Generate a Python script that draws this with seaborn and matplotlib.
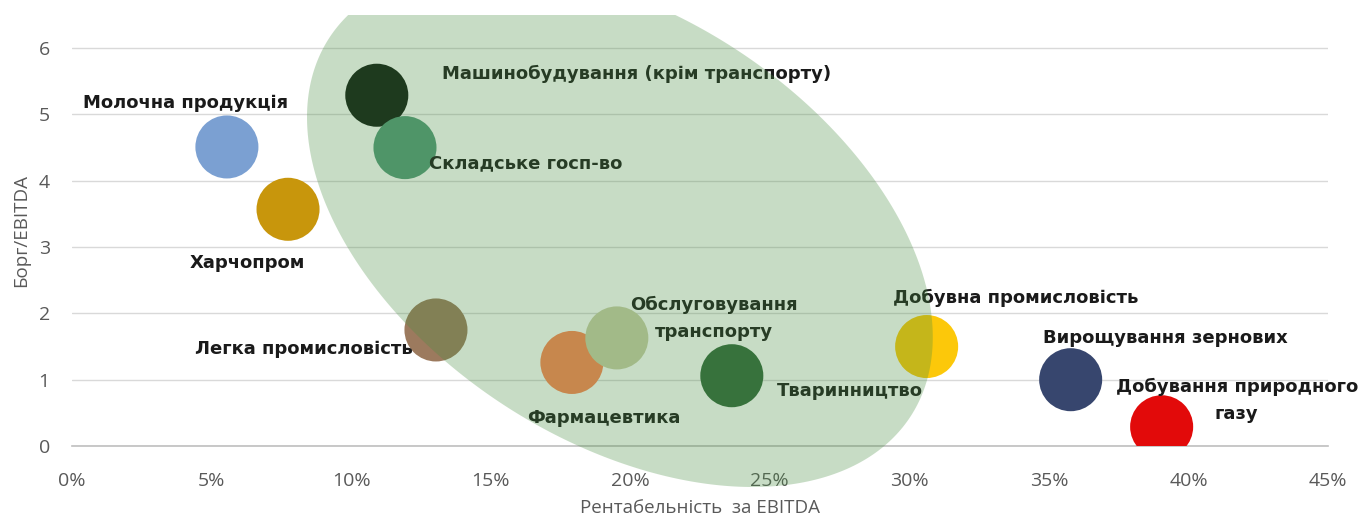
import numpy as np
import pandas as pd
import seaborn as sns
import matplotlib.pyplot as plt
from matplotlib.patches import Rectangle
from matplotlib.ticker import PercentFormatter

# sectors, EBITDA margin (%) and Debt/EBITDA
sectors = ["Молочна продукція", "Харчопром", "Машинобудування (крім транспорту)",
           "Складське госп-во", "Легка промисловість", "Фармацевтика",
           "Обслуговування\nтранспорту", "Тваринництво", "Добувна промисловість",
           "Вирощування зернових", "Добування природного\nгазу"]
margin = [5.55, 7.74, 10.92, 11.93, 13.04, 17.91, 19.52, 23.64, 30.62, 35.78, 39.04]
debt = [4.51, 3.57, 5.29, 4.50, 1.75, 1.26, 1.63, 1.06, 1.50, 1.00, 0.29]
colors = ["#7ba0d2", "#c8960c", "#0c160f", "#53997a", "#9c7a5e", "#ff8453",
          "#cacea8", "#30673a", "#fcc80a", "#37466e", "#e20a0a"]

# label offsets from bubble centre (points) and alignment
offsets = [(-30, 32, "center"), (-29, -39, "center"), (47, 15, "left"),
           (17, -11, "left"), (-17, -14, "right"), (23, -40, "center"),
           (70, 14, "center"), (85, -11, "center"), (64, 35, "center"),
           (68, 30, "center"), (54, 19, "center")]

xticks = list(range(0, 50, 5))
yticks = list(range(0, 7))

df = pd.DataFrame({"sector": sectors, "margin": margin, "debt": debt})

sns.set_style("white")
plt.rcParams["font.family"] = ["DejaVu Sans"]

fig = plt.figure(figsize=(13.65, 5.17), dpi=100)
ax = fig.add_axes([72 / 1365, 71 / 517, 1256 / 1365, 431 / 517])

sns.scatterplot(data=df, x="margin", y="debt", hue="sector",
                palette=dict(zip(sectors, colors)), s=2060, linewidth=0,
                legend=False, ax=ax, zorder=3)

for name, x, y, (dx, dy, ha) in zip(sectors, margin, debt, offsets):
    ax.annotate(name, (x, y), xytext=(dx, dy), textcoords="offset points",
                ha=ha, va="center", fontsize=13, fontweight="bold",
                color="#1a1a1a", linespacing=1.7, multialignment="center",
                zorder=4, annotation_clip=False)

# highlight ellipse over the middle group (cut at the top of the plot only)
t = np.linspace(0, 2 * np.pi, 400)
ex = 19.63 + 11.21 * np.cos(t)
ey = 3.30 - 1.658 * np.cos(t) - 3.55 * np.sin(t)
ell = ax.fill(ex, ey, color="#488e41", alpha=0.3, lw=0, zorder=5)[0]
ell.set_clip_path(Rectangle((0, -1), 1, 2, transform=ax.transAxes))

ax.set_xlim(0, 45)
ax.set_ylim(0, 6.5)
ax.set_xticks(xticks)
ax.set_yticks(yticks)
ax.xaxis.set_major_formatter(PercentFormatter(xmax=100, decimals=0))
ax.grid(axis="y", color="#d9d9d9", linewidth=1)
ax.set_axisbelow(True)
for side in ["top", "right", "left"]:
    ax.spines[side].set_visible(False)
ax.spines["bottom"].set_color("#bfbfbf")
ax.spines["bottom"].set_linewidth(1.2)
ax.tick_params(axis="x", direction="out", length=4, color="#bfbfbf",
               pad=15, labelsize=14, labelcolor="#595959")
ax.tick_params(axis="y", length=0, pad=16, labelsize=14, labelcolor="#595959")
for lab in ax.get_xticklabels() + ax.get_yticklabels():
    lab.set_family("Open Sans")

ax.set_xlabel("Рентабельність  за EBITDA", fontsize=13.5, color="#595959",
              family="Open Sans", labelpad=6)
ax.set_ylabel("Борг/EBITDA", fontsize=13.5, color="#595959",
              family="Open Sans", labelpad=6)

fig.savefig("out.png", dpi=100)
